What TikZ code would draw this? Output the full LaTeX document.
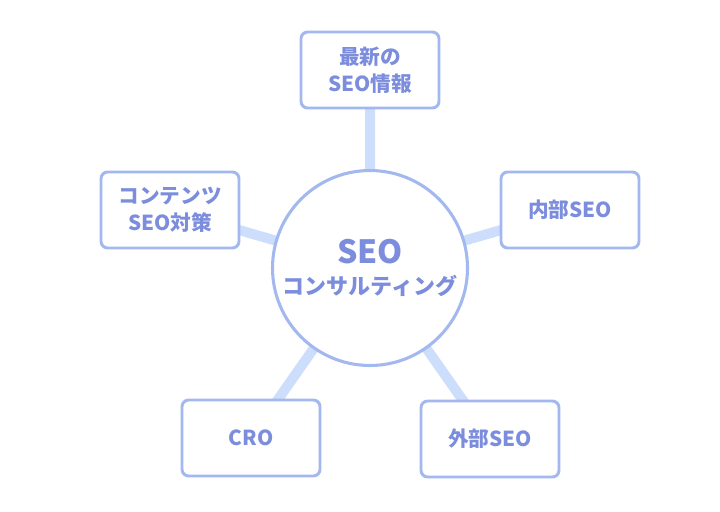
\documentclass[tikz,border=0pt]{standalone}
\usepackage{fontspec}
\usetikzlibrary{backgrounds}
\setmainfont{Noto Sans CJK JP}
\definecolor{txt}{HTML}{7C8DDE}
\definecolor{bord}{HTML}{A2B8EE}
\definecolor{conn}{HTML}{CCDEFB}
\tikzset{
  box/.style={draw=bord, line width=2.2pt, rounded corners=5pt, fill=white,
    minimum width=103.5pt, minimum height=57pt, align=center,
    text=txt, font=\fontsize{15.5}{20}\selectfont\bfseries},
  hub/.style={circle, draw=bord, line width=2.3pt, fill=white, minimum size=141pt,
    align=center, text=txt},
  link/.style={draw=conn, line width=7.5pt}
}
\begin{document}
\begin{tikzpicture}[x=0.75pt,y=-0.75pt]
\useasboundingbox (0,0) rectangle (720,511);
\node[hub] (c) at (370,268) {{\fontsize{24}{26}\selectfont\bfseries SEO}\\[7pt]{\fontsize{16.5}{20}\selectfont\bfseries コンサルティング}};
\node[box] (t) at (370,70) {最新の\\SEO情報};
\node[box] (r) at (570,210) {内部SEO};
\node[box] (l) at (170,210) {コンテンツ\\SEO対策};
\node[box] (bl) at (251,438) {CRO};
\node[box] (br) at (490,439) {外部SEO};
\begin{scope}[on background layer]
\path[link] (c.center) -- (t.center) (c.center) -- (r.center) (c.center) -- (l.center)
  (c.center) -- (bl.center) (c.center) -- (br.center);
\end{scope}
\end{tikzpicture}
\end{document}
